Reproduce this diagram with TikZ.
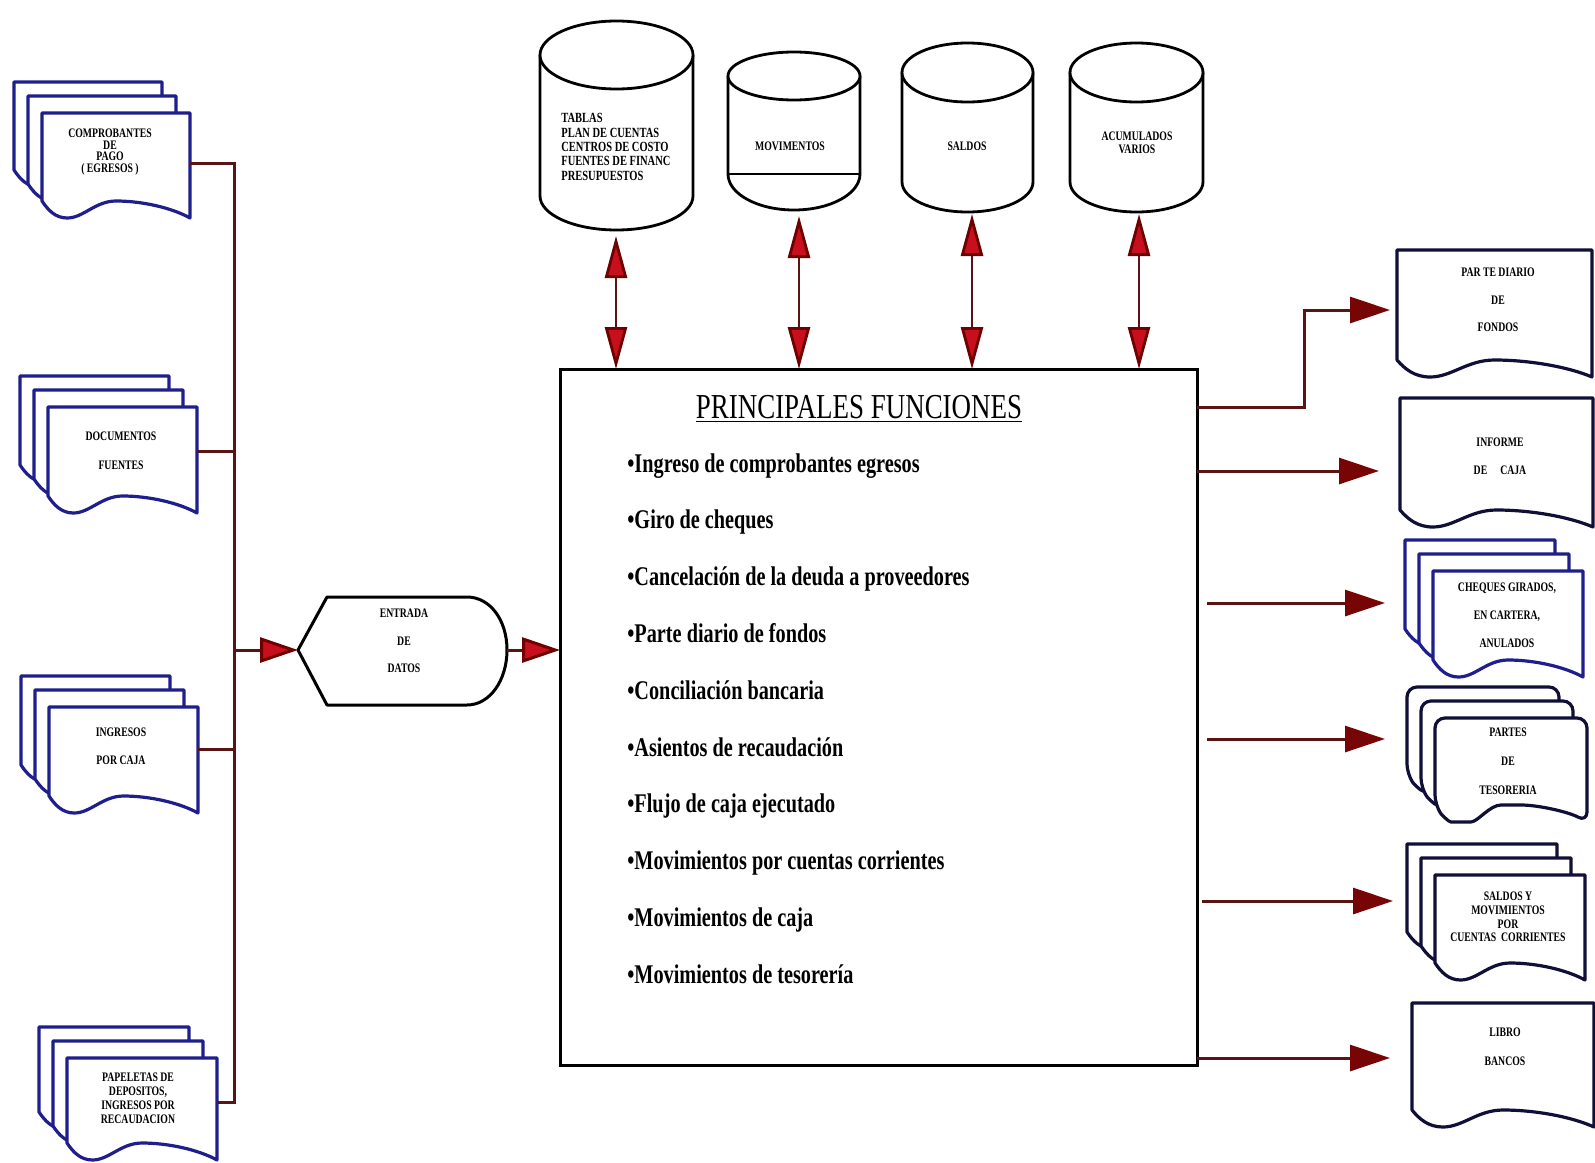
\documentclass[tikz,border=0pt]{standalone}
\usepackage{fontspec}
\setmainfont{Liberation Serif}
\newfontfamily\cfm{Liberation Serif}[FakeStretch=0.75]
\newfontfamily\cft{Liberation Serif}[FakeStretch=0.77]
\newfontfamily\cfl{Liberation Serif}[FakeStretch=0.75]
\usetikzlibrary{arrows.meta}
\definecolor{docblue}{RGB}{30,30,140}
\definecolor{docnavy}{RGB}{15,15,55}
\definecolor{arrred}{RGB}{200,15,30}
\definecolor{arrdark}{RGB}{110,0,0}
\definecolor{arrmaroon}{RGB}{120,5,5}
\definecolor{connc}{RGB}{90,20,20}
\newcommand\lblfont[2]{\cfl\bfseries\fontsize{#1pt}{#2pt}\selectfont}
% document page: style, L, T, R, B
\newcommand\docpage[5]{%
  \filldraw[#1] (#2,#3) -- (#4,#3) -- (#4,#5)
    .. controls ({#4-0.12*(#4-#2)},{#5-10}) and ({#2+0.68*(#4-#2)},{#5-17}) .. ({#2+0.5*(#4-#2)},{#5-17})
    .. controls ({#2+0.36*(#4-#2)},{#5-17}) and ({#2+0.28*(#4-#2)},{#5}) .. ({#2+0.17*(#4-#2)},{#5})
    .. controls ({#2+0.09*(#4-#2)},{#5}) and ({#2+0.04*(#4-#2)},{#5-8}) .. (#2,{#5-17}) -- cycle;}
\newcommand\docstack[5]{%
  \begin{scope}[shift={(-28,-31)}]\docpage{#1}{#2}{#3}{#4}{#5}\end{scope}
  \begin{scope}[shift={(-14,-17)}]\docpage{#1}{#2}{#3}{#4}{#5}\end{scope}
  \docpage{#1}{#2}{#3}{#4}{#5}}
% cylinder: cx, rx, top centre y, top ry, bottom centre y, bottom ry
\newcommand\cylinder[6]{%
  \filldraw[cyl] ({#1-#2},#3) -- ({#1-#2},#5)
    .. controls ({#1-#2},{#5+0.5523*#6}) and ({#1-0.5523*#2},{#5+#6}) .. (#1,{#5+#6})
    .. controls ({#1+0.5523*#2},{#5+#6}) and ({#1+#2},{#5+0.5523*#6}) .. ({#1+#2},#5)
    -- ({#1+#2},#3);
  \filldraw[cyl] (#1,#3) ellipse [x radius=#2, y radius=#4];}
\begin{document}
\begin{tikzpicture}[x=0.5pt,y=-0.5pt,
  docb/.style={draw=docblue,fill=white,line width=1.6pt,line join=round},
  docn/.style={draw=docnavy,fill=white,line width=1.6pt,line join=round},
  docr/.style={draw=docnavy,fill=white,line width=1.6pt,line join=round,rounded corners=5pt},
  cyl/.style={draw=black,fill=white,line width=1.4pt},
  conn/.style={draw=connc,line width=1.5pt},
  dbl/.style={draw=connc,line width=1.4pt,
    arrows={Triangle[length=21pt,width=11pt,color=arrdark,fill=arrred]-Triangle[length=21pt,width=11pt,color=arrdark,fill=arrred]}},
  redtip/.style={arrows={-Triangle[length=19pt,width=12.5pt,color=arrdark,fill=arrred]}},
  darktip/.style={arrows={-Triangle[length=20pt,width=13pt,color=arrmaroon,fill=arrmaroon]}},
  lbl/.style={inner sep=0,align=center,font=\lblfont{6.5}{#1}},
  item/.style={anchor=base west,inner sep=0,font=\cfm\bfseries\fontsize{13.5pt}{15pt}\selectfont}
]
\useasboundingbox (0,0) rectangle (1595,1162);

% ---------- main box ----------
\node[draw=black,line width=1.5pt,minimum width=318.5pt,minimum height=348pt,
      inner sep=0,outer sep=0,anchor=north west] (box) at (560,369) {};
\node[anchor=base,inner sep=0,font=\cft\fontsize{17.5pt}{19pt}\selectfont] (title) at (859,418)
  {\underline{PRINCIPALES FUNCIONES}};
\foreach \t [count=\i] in {Ingreso de comprobantes egresos,Giro de cheques,Cancelación de la deuda a proveedores,Parte diario de fondos,Conciliación bancaria,Asientos de recaudación,Flujo de caja ejecutado,Movimientos por cuentas corrientes,Movimientos de caja,Movimientos de tesorería}
  \node[item] (f\i) at (627,{472+56.8*(\i-1)}) {•\t};

% ---------- cylinders ----------
\cylinder{616.5}{76.5}{55}{34}{196}{34}
\cylinder{794}{66}{76}{24}{174}{36}
\draw[cyl] (728,174) -- (860,174);
\cylinder{967.5}{65.5}{72.5}{29.5}{182}{30}
\cylinder{1136.5}{66.5}{72.5}{29.5}{182}{30}
\node[lbl=7.2pt,align=left,anchor=west,font=\lblfont{7}{7.2}] (tab) at (561,147)
  {TABLAS\\PLAN DE CUENTAS\\CENTROS DE COSTO\\FUENTES DE FINANC\\PRESUPUESTOS};
\node[lbl=8] (mov) at (790,146) {MOVIMENTOS};
\node[lbl=8] (sal) at (967,146) {SALDOS};
\node[lbl=6.5] (acu) at (1137,143) {ACUMULADOS\\VARIOS};
\coordinate (c1b) at (616,236);
\coordinate (c2b) at (799,216);
\coordinate (c3b) at (972,214);
\coordinate (c4b) at (1139,214);
\foreach \c in {c1b,c2b,c3b,c4b}
  \draw[dbl] (\c) -- (\c |- box.north);

% ---------- left documents ----------
\docstack{docb}{42}{113}{190}{218}
\docstack{docb}{48}{407}{197}{513}
\docstack{docb}{49}{707}{198}{813}
\docstack{docb}{67}{1058}{217}{1160}
\node[lbl=5.9] (comp) at (110,152) {COMPROBANTES\\DE\\PAGO\\( EGRESOS )};
\node[lbl=14.5] (docf) at (121,451) {DOCUMENTOS\\FUENTES};
\node[lbl=14] (ingr) at (121,746) {INGRESOS\\POR CAJA};
\node[lbl=7] (pape) at (138,1098) {PAPELETAS DE\\DEPOSITOS,\\INGRESOS POR\\RECAUDACION};
\coordinate (l1) at (190,163);
\coordinate (l2) at (197,451);
\coordinate (l3) at (198,749);
\coordinate (l4) at (217,1102);
\coordinate (bt) at (234,163);
\coordinate (bb) at (234,1102);
\draw[conn] (l1) -- (bt) -- (bb) -- (l4);
\draw[conn] (l2) -- (l2 -| bt);
\draw[conn] (l3) -- (l3 -| bt);

% ---------- entrada de datos ----------
\coordinate (entL) at (298,650);
\coordinate (entR) at (507,650);
\filldraw[draw=black,fill=white,line width=1.5pt,line join=round]
  (entL) -- (327,597) -- (467,597) .. controls (490,597) and (507,620) .. (entR)
  .. controls (507,680) and (490,705) .. (467,705) -- (327,705) -- cycle;
\node[lbl=13.8] (ent) at (404,641) {ENTRADA\\DE\\DATOS};
\draw[conn,redtip] (entL -| bt) -- (entL);
\draw[conn,redtip] (entR) -- (entR -| box.west);

% ---------- right documents ----------
\docpage{docn}{1397}{250}{1592}{377}
\docpage{docn}{1400}{398}{1593}{527}
\docstack{docb}{1433}{571}{1583}{677}
\docstack{docr}{1435}{718}{1587}{822}
\docstack{docn}{1435}{875}{1585}{980}
\docpage{docn}{1412}{1003}{1594}{1127}
\node[lbl=13.75] (pdt) at (1498,300) {PAR TE DIARIO\\DE\\FONDOS};
\node[lbl=14] (inf) at (1500,456) {INFORME\\DE\quad CAJA};
\node[lbl=14] (chq) at (1507,615) {CHEQUES GIRADOS,\\EN CARTERA,\\ANULADOS};
\node[lbl=14.5] (par) at (1508,761) {PARTES\\DE\\TESORERIA};
\node[lbl=6.8] (smc) at (1508,917) {SALDOS Y\\MOVIMIENTOS\\POR\\CUENTAS\ \ CORRIENTES};
\node[lbl=14.5] (lib) at (1505,1047) {LIBRO\\BANCOS};

% ---------- right connectors ----------
\coordinate (r1s) at (1197,407);
\coordinate (r1k) at (1304,407);
\coordinate (r1) at (1390,310);
\draw[conn,darktip] (r1s -| box.east) -- (r1k) |- (r1);
\coordinate (r2s) at (1197,471);  \coordinate (r2) at (1379,471);
\coordinate (r3s) at (1207,603);  \coordinate (r3) at (1385,603);
\coordinate (r4s) at (1207,739);  \coordinate (r4) at (1385,739);
\coordinate (r5s) at (1202,901);  \coordinate (r5) at (1393,901);
\coordinate (r6s) at (1197,1058); \coordinate (r6) at (1390,1058);
\draw[conn,darktip] (r2s -| box.east) -- (r2);
\draw[conn,darktip] (r3s) -- (r3);
\draw[conn,darktip] (r4s) -- (r4);
\draw[conn,darktip] (r5s) -- (r5);
\draw[conn,darktip] (r6s -| box.east) -- (r6);
\end{tikzpicture}
\end{document}
